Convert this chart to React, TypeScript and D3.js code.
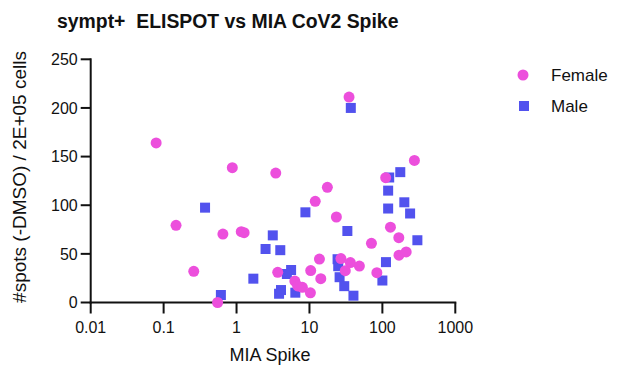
import React from "react";
import * as d3 from "d3";

const femaleX = [0.079, 0.875, 3.45, 0.148, 0.65, 1.16, 1.27, 0.259, 0.55, 3.67, 34.9, 275, 111, 17.6, 12, 23.4, 129, 168, 70.8, 169, 212, 13.7, 27, 36.4, 48.4, 31, 84, 10.4, 14.3, 6.3, 6.9, 8.0, 10.3];
const femaleY = [164, 138.6, 133, 79.3, 70.4, 72.8, 71.8, 32, 0, 31, 211.2, 146, 128.3, 118.4, 104, 87.9, 77.4, 66.6, 60.8, 48.6, 52, 44.6, 45.2, 41, 37.5, 32.7, 30.6, 32.8, 24.5, 22, 17, 15.6, 9.9];

const maleX = [36.9, 0.37, 3.14, 2.5, 3.98, 1.7, 0.61, 3.83, 4.07, 176, 124, 120, 8.8, 200, 120, 240, 33.1, 302, 24.3, 112, 24.8, 5.6, 4.9, 25.9, 100, 30, 6.4, 40.1];
const maleY = [200, 97.5, 69, 55, 53.8, 24.5, 7.7, 9, 12.8, 134, 128.5, 115, 92.7, 103, 96.6, 91.5, 73.5, 64, 44.5, 41.5, 37.3, 33.4, 29.3, 26, 22.6, 16.8, 10.1, 7];

const xTicks = [0.01, 0.1, 1, 10, 100, 1000];
const xTickLabels = ["0.01", "0.1", "1", "10", "100", "1000"];
const yTicks = [0, 50, 100, 150, 200, 250];

const PINK = "#ec4fdc";
const BLUE = "#5252ee";
const FONT = "'Liberation Sans', Arial, sans-serif";
const INK = "#111";

export default function App() {
  const x = d3.scaleLog().domain([0.01, 1000]).range([90.7, 455.3]);
  const y = d3.scaleLinear().domain([0, 250]).range([302.5, 59.3]);
  const x0 = 90.7;
  const y0 = 302.5;

  const females = femaleX.map((v, i) => ({ x: v, y: femaleY[i] }));
  const males = maleX.map((v, i) => ({ x: v, y: maleY[i] }));
  const sq = 10;

  return (
    <svg
      width={618}
      height={368}
      style={{ position: "absolute", left: 0, top: 0, background: "#fff" }}
      fontFamily={FONT}
    >
      <rect x={0} y={0} width={618} height={368} fill="#fff" />
      <text x={57} y={28} fontSize={19.4} fontWeight="bold" fill={INK} style={{ whiteSpace: "pre" }}>
        {"sympt+  ELISPOT vs MIA CoV2 Spike"}
      </text>

      {/* y axis */}
      <line x1={x0} x2={x0} y1={y(250) - 1} y2={y0 + 1} stroke={INK} strokeWidth={2} />
      {yTicks.map((t) => (
        <g key={"y" + t}>
          <line x1={x0 - 10} x2={x0} y1={y(t)} y2={y(t)} stroke={INK} strokeWidth={2} />
          <text x={x0 - 13} y={y(t)} dy="0.36em" textAnchor="end" fontSize={16} fill={INK}>
            {t}
          </text>
        </g>
      ))}

      {/* x axis */}
      <line x1={x0 - 1} x2={x(1000) + 1} y1={y0} y2={y0} stroke={INK} strokeWidth={2} />
      {xTicks.map((t, i) => (
        <g key={"x" + t}>
          <line x1={x(t)} x2={x(t)} y1={y0} y2={y0 + 11} stroke={INK} strokeWidth={2} />
          <text x={x(t)} y={y0 + 30} textAnchor="middle" fontSize={16} fill={INK}>
            {xTickLabels[i]}
          </text>
        </g>
      ))}

      <text x={270} y={361} textAnchor="middle" fontSize={18} fill={INK}>
        MIA Spike
      </text>
      <text
        transform={`translate(26,177) rotate(-90)`}
        textAnchor="middle"
        fontSize={19}
        fill={INK}
      >
        #spots (-DMSO) / 2E+05 cells
      </text>

      {/* points */}
      {males.map((d, i) => (
        <rect key={"m" + i} x={x(d.x) - sq / 2} y={y(d.y) - sq / 2} width={sq} height={sq} fill={BLUE} />
      ))}
      {females.map((d, i) => (
        <circle key={"f" + i} cx={x(d.x)} cy={y(d.y)} r={5.5} fill={PINK} />
      ))}

      {/* legend */}
      <circle cx={523} cy={75} r={5.5} fill={PINK} />
      <text x={551} y={75} dy="0.36em" fontSize={17} fill={INK}>Female</text>
      <rect x={519} y={101} width={sq} height={sq} fill={BLUE} />
      <text x={551} y={106} dy="0.36em" fontSize={17} fill={INK}>Male</text>
    </svg>
  );
}
